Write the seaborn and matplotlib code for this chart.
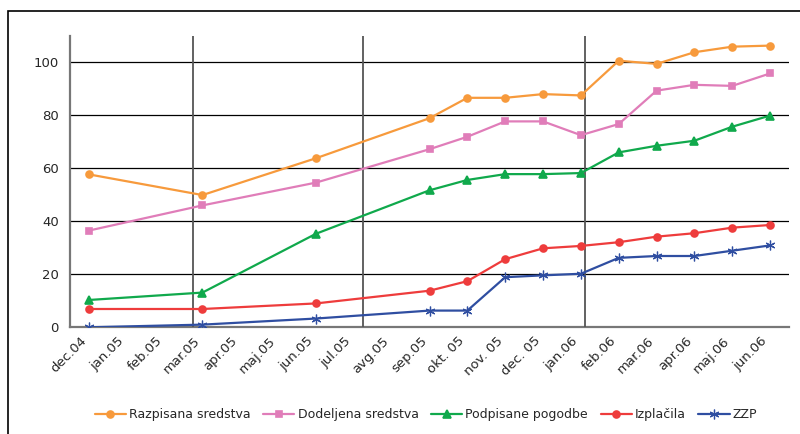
import matplotlib
matplotlib.use("Agg")
import matplotlib.pyplot as plt
from matplotlib.patches import Rectangle
import seaborn as sns
import pandas as pd

# month categories on the x axis
months = ['dec.04', 'jan.05', 'feb.05', 'mar.05', 'apr.05', 'maj.05', 'jun.05',
          'jul.05', 'avg.05', 'sep.05', 'okt. 05', 'nov. 05', 'dec. 05',
          'jan.06', 'feb.06', 'mar.06', 'apr.06', 'maj.06', 'jun.06']
# months that have a data point
data_months = ['dec.04', 'mar.05', 'jun.05', 'sep.05', 'okt. 05', 'nov. 05',
               'dec. 05', 'jan.06', 'feb.06', 'mar.06', 'apr.06', 'maj.06', 'jun.06']

razpisana = [57.7, 49.9, 63.8, 78.9, 86.6, 86.6, 88.0, 87.5, 100.6, 99.4, 103.8, 105.9, 106.3]
dodeljena = [36.5, 46.0, 54.6, 67.2, 71.9, 77.7, 77.7, 72.5, 76.7, 89.3, 91.5, 91.1, 95.8]
podpisane = [10.3, 13.1, 35.3, 51.7, 55.6, 57.8, 57.8, 58.2, 66.0, 68.5, 70.4, 75.7, 79.9]
izplacila = [6.9, 6.9, 9.0, 13.8, 17.4, 25.7, 29.8, 30.7, 32.1, 34.2, 35.5, 37.6, 38.6]
zzp = [0.0, 1.0, 3.3, 6.3, 6.3, 18.9, 19.6, 20.2, 26.2, 26.9, 26.9, 28.9, 30.9]

names = ['Razpisana sredstva', 'Dodeljena sredstva', 'Podpisane pogodbe', 'Izplačila', 'ZZP']
values = [razpisana, dodeljena, podpisane, izplacila, zzp]
colors = ['#F79A3C', '#E07DB9', '#10A94C', '#EE3C3C', '#2F4EA1']
markers = ['o', 's', '^', 'o', (6, 2, 0)]
msizes = [5, 5, 6, 5, 7]
medges = [1.2, 1.2, 1.2, 1.2, 0.9]

sns.set_style("white")
plt.rcParams['font.family'] = ['DejaVu Sans']

fig = plt.figure(figsize=(8, 4.34), dpi=100)
ax = fig.add_axes([0.0875, 0.2459, 0.8988, 0.6716])

xpos = [months.index(m) for m in data_months]
for name, vals, c, mk, ms, mew in zip(names, values, colors, markers, msizes, medges):
    df = pd.DataFrame({'x': xpos, 'y': vals})
    sns.lineplot(data=df, x='x', y='y', ax=ax, color=c, marker=mk, markersize=ms,
                 markeredgecolor=c, markerfacecolor=c, markeredgewidth=mew,
                 linewidth=1.6, label=name, zorder=4)

# event lines
for xv in [2.76, 7.235, 13.11]:
    ax.axvline(xv, color='#555555', lw=1.3, zorder=3)

ax.set_xlim(-0.5, len(months) - 0.5)
ax.set_ylim(0, 110)
ax.set_yticks(range(0, 101, 20))
ax.yaxis.grid(True, color='black', lw=0.9)
ax.set_axisbelow(True)

ax.set_xticks(range(len(months)))
ax.set_xticklabels(months, rotation=45, ha='right', fontsize=9.5)
ax.set_xticks([i - 0.5 for i in range(len(months) + 1)], minor=True)
ax.tick_params(axis='x', which='major', length=0, pad=5)
ax.tick_params(axis='x', which='minor', length=5, width=1, color='#555555', direction='out')
ax.tick_params(axis='y', length=5, width=1, color='#555555', direction='out', labelsize=9.5, pad=3)
ax.set_xlabel('')
ax.set_ylabel('')

for s in ['top', 'right']:
    ax.spines[s].set_visible(False)
for s in ['left', 'bottom']:
    ax.spines[s].set_color('#777777')
    ax.spines[s].set_linewidth(1.6)

ax.legend(loc='center', bbox_to_anchor=(0.5325, 0.044), bbox_transform=fig.transFigure,
          ncol=5, frameon=False, fontsize=9, handlelength=2.5, handletextpad=0.25,
          columnspacing=1.0, borderaxespad=0)

# outer frame of the picture
fig.patches.append(Rectangle((0.01, -0.05), 1.1, 1.025, transform=fig.transFigure,
                             fill=False, edgecolor='black', lw=1.2))

fig.savefig('out.png', dpi=100)
